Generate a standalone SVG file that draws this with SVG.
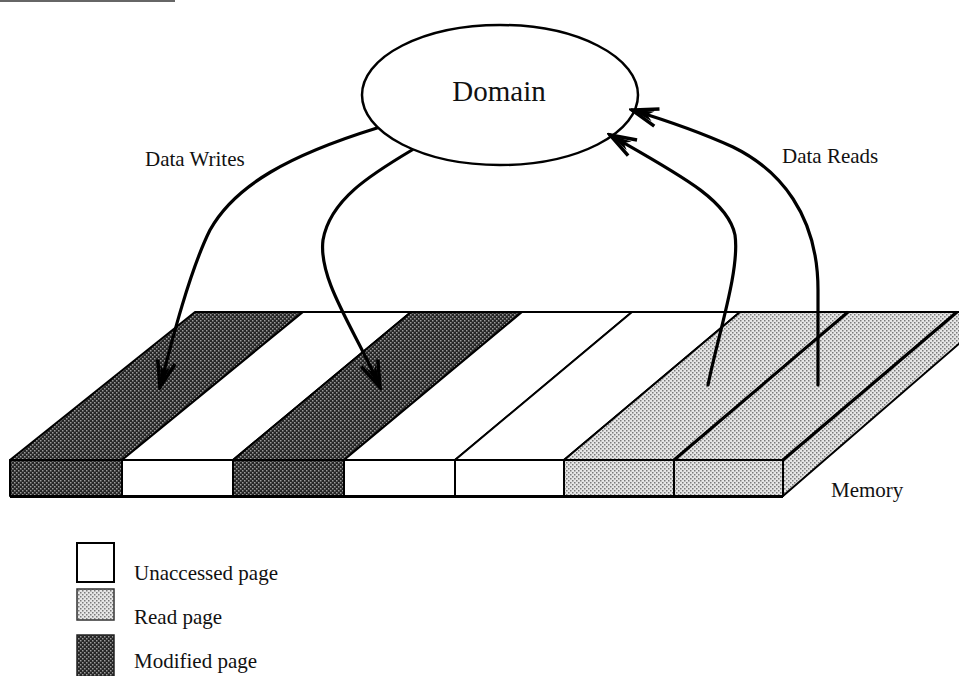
<svg xmlns="http://www.w3.org/2000/svg" width="959" height="676" viewBox="0 0 959 676">
<style>
.lbl{font-family:"Liberation Serif","Times New Roman",serif;font-size:21px;fill:#111}
.title{font-family:"Liberation Serif","Times New Roman",serif;font-size:29px;fill:#111}
.edge{stroke:#000;stroke-width:2;stroke-linejoin:round}
.thick{stroke:#000;stroke-width:3;fill:none}
.conn{fill:none;stroke:#000;stroke-width:3.2;stroke-linecap:round}
.mod{fill:url(#pMod)}
.read{fill:url(#pRead)}
.unacc{fill:#fff}
</style>
<defs>
<pattern id="pMod" width="4" height="4" patternUnits="userSpaceOnUse">
<rect width="4" height="4" fill="#262626"/>
<rect width="1.5" height="1.5" fill="#9a9a9a"/>
<rect x="2" y="2" width="1.5" height="1.5" fill="#9a9a9a"/>
</pattern>
<pattern id="pRead" width="4" height="4" patternUnits="userSpaceOnUse">
<rect width="4" height="4" fill="#e6e6e6"/>
<rect width="1.5" height="1.5" fill="#7a7a7a"/>
<rect x="2" y="2" width="1.5" height="1.5" fill="#7a7a7a"/>
</pattern>
<marker id="barb" markerWidth="32" markerHeight="26" refX="29" refY="13" orient="auto" markerUnits="userSpaceOnUse" viewBox="0 0 32 26">
<path d="M3,4 L29,13 L3,22" fill="none" stroke="#000" stroke-width="3.5" stroke-linejoin="miter"/>
<path d="M29,13 L7,8 L13,13 L7,18 Z" fill="#000"/>
</marker>
</defs>

<rect x="0" y="0" width="175" height="2" fill="#666"/>

<g id="memory">
<g id="page1">
<polygon class="mod edge" points="195,312 303,312 122,460 10,460"/>
<rect class="mod edge" x="10" y="460" width="112" height="36"/>
</g>
<g id="page2">
<polygon class="unacc edge" points="303,312 411,312 233,460 122,460"/>
<rect class="unacc edge" x="122" y="460" width="111" height="36"/>
</g>
<g id="page3">
<polygon class="mod edge" points="411,312 522,312 344,460 233,460"/>
<rect class="mod edge" x="233" y="460" width="111" height="36"/>
</g>
<g id="page4">
<polygon class="unacc edge" points="522,312 632,312 455,460 344,460"/>
<rect class="unacc edge" x="344" y="460" width="111" height="36"/>
</g>
<g id="page5">
<polygon class="unacc edge" points="632,312 740,312 564,460 455,460"/>
<rect class="unacc edge" x="455" y="460" width="109" height="36"/>
</g>
<g id="page6">
<polygon class="read edge" points="740,312 848,312 674,460 564,460"/>
<rect class="read edge" x="564" y="460" width="110" height="36"/>
</g>
<g id="page7">
<polygon class="read edge" points="848,312 957,312 783,460 674,460"/>
<rect class="read edge" x="674" y="460" width="109" height="36"/>
<polygon class="read edge" points="783,460 957,312 961,312 961,342 783,496"/>
</g>
<line class="thick" x1="674" y1="460" x2="848" y2="312"/>
<line class="thick" x1="783" y1="460" x2="957" y2="312"/>
<line class="edge" x1="195" y1="312" x2="959" y2="312"/>
<line class="edge" x1="10" y1="497" x2="783" y2="497"/>
</g>

<g id="domain">
<ellipse cx="500" cy="95" rx="138" ry="70" fill="#fff" stroke="#000" stroke-width="2.5"/>
<text class="title" x="499" y="101" text-anchor="middle">Domain</text>
</g>

<g id="connectors">
<path class="conn" marker-end="url(#barb)" d="M377,128 C290,155 235,185 210,230 C190,270 172,340 160,387"/>
<path class="conn" marker-end="url(#barb)" d="M412,150 C370,175 330,200 323,240 C318,280 355,330 380,387"/>
<path class="conn" marker-end="url(#barb)" d="M708,385 C718,335 740,270 735,235 C728,200 680,175 610,135"/>
<path class="conn" marker-end="url(#barb)" d="M818,385 L818,290 C818,215 780,170 733,147 C700,132 665,120 632,110"/>
</g>

<g id="labels">
<text class="lbl" x="145" y="166">Data Writes</text>
<text class="lbl" x="782" y="163">Data Reads</text>
<text class="lbl" x="831" y="497">Memory</text>
</g>

<g id="legend">
<g id="legend-unaccessed">
<rect x="77" y="543" width="37" height="39" fill="#fff" stroke="#000" stroke-width="2"/>
<text class="lbl" x="134" y="580">Unaccessed page</text>
</g>
<g id="legend-read">
<rect x="77" y="589" width="37" height="31" class="read" stroke="#333" stroke-width="1.5"/>
<text class="lbl" x="134" y="624">Read page</text>
</g>
<g id="legend-modified">
<rect x="77" y="635" width="37" height="42" class="mod" stroke="#222" stroke-width="1.5"/>
<text class="lbl" x="134" y="668">Modified page</text>
</g>
</g>
</svg>
